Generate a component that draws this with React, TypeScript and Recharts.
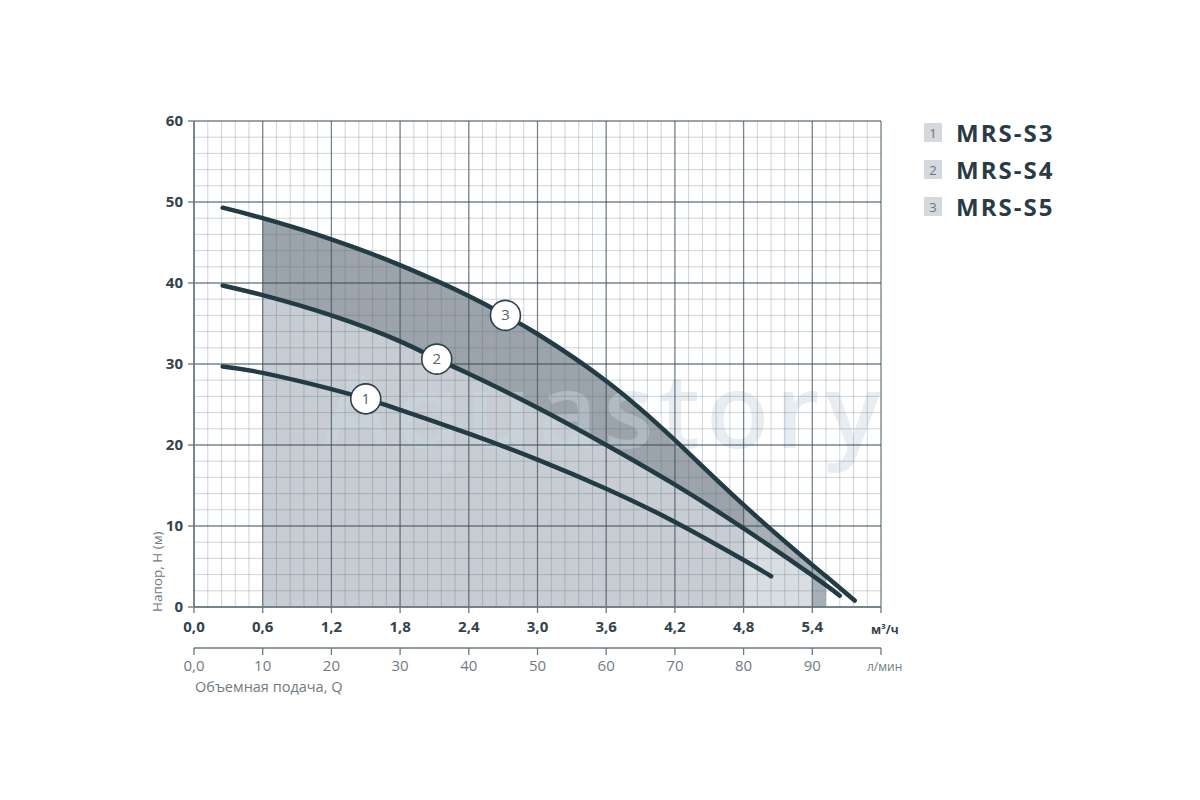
import React from 'react';
import { ComposedChart, Area, Line, XAxis, YAxis, CartesianGrid, Scatter } from 'recharts';

type P = { q: number; h: number };

// Q in m³/h, H in m
const mrsS3: P[] = [
  { q: 0.25, h: 29.7 }, { q: 0.6, h: 28.9 }, { q: 1.2, h: 26.9 }, { q: 1.5, h: 25.7 },
  { q: 1.8, h: 24.35 }, { q: 2.4, h: 21.4 }, { q: 3.0, h: 18.2 }, { q: 3.6, h: 14.6 },
  { q: 4.2, h: 10.5 }, { q: 4.8, h: 5.8 }, { q: 5.04, h: 3.8 },
];
const mrsS4: P[] = [
  { q: 0.25, h: 39.7 }, { q: 0.6, h: 38.5 }, { q: 1.2, h: 36.0 }, { q: 1.8, h: 32.8 },
  { q: 2.12, h: 30.6 }, { q: 2.4, h: 28.8 }, { q: 3.0, h: 24.6 }, { q: 3.6, h: 20.0 },
  { q: 4.2, h: 15.1 }, { q: 4.8, h: 9.7 }, { q: 5.4, h: 3.9 }, { q: 5.64, h: 1.4 },
];
const mrsS5: P[] = [
  { q: 0.25, h: 49.3 }, { q: 0.6, h: 48.0 }, { q: 1.2, h: 45.4 }, { q: 1.8, h: 42.2 },
  { q: 2.4, h: 38.4 }, { q: 2.72, h: 36.0 }, { q: 3.0, h: 33.7 }, { q: 3.6, h: 27.9 },
  { q: 4.2, h: 20.6 }, { q: 4.8, h: 12.6 }, { q: 5.4, h: 5.2 }, { q: 5.52, h: 3.8 },
  { q: 5.77, h: 0.8 },
];

const seriesNames = ['MRS-S3', 'MRS-S4', 'MRS-S5'];
const seriesNumbers = ['1', '2', '3'];
const labelQ = [1.5, 2.12, 2.72];

const qTicks = [0, 0.6, 1.2, 1.8, 2.4, 3.0, 3.6, 4.2, 4.8, 5.4, 6.0];
const qTickLabels = ['0,0', '0,6', '1,2', '1,8', '2,4', '3,0', '3,6', '4,2', '4,8', '5,4', ''];
// л/мин scale: 10 л/мин = 0,6 м³/ч, so its ticks sit on the same positions
const lTickLabels = ['0,0', '10', '20', '30', '40', '50', '60', '70', '80', '90', ''];
const hTicks = [0, 10, 20, 30, 40, 50, 60];
const hTickLabels = ['0', '10', '20', '30', '40', '50', '60'];

// working ranges (m³/h)
const rangeStart = 0.6;
const rangeEndS5 = 5.52;
const rangeEndS4 = 5.4;
const rangeEndShade = 4.8;

const minorQ = Array.from({ length: 51 }, (_, i) => +(i * 0.12).toFixed(2));
const minorH = Array.from({ length: 31 }, (_, i) => i * 2);

const within = (arr: P[], a: number, b: number) => arr.filter((p) => p.q >= a - 1e-9 && p.q <= b + 1e-9);
const fillDark = within(mrsS5, rangeStart, rangeEndS5);
const fillLight = within(mrsS4, rangeStart, rangeEndS4);
const fillShade = within(mrsS5, rangeStart, rangeEndShade);

const curves = [mrsS3, mrsS4, mrsS5];
const labelPts = curves.map((c, i) => {
  const p = c.find((d) => Math.abs(d.q - labelQ[i]) < 1e-9)!;
  return { q: p.q, h: p.h, n: seriesNumbers[i] };
});

const W = 1200;
const H = 800;
const MARGIN_A = { top: 121, right: 319, bottom: 193, left: 194 };
const MARGIN_B = { top: 121, right: 319, bottom: 112, left: 134 };

const FONT = "'Open Sans', 'DejaVu Sans', sans-serif";
const CURVE = '#233b45';
const AXIS = '#6a7882';
const CURVE_TYPE = 'natural' as const;

const fmtIdx = (labels: string[]) => (v: number) =>
  labels[qTicks.findIndex((t) => Math.abs(t - v) < 1e-9)] ?? '';

const LabelShape = (props: any) => {
  const { cx, cy, payload } = props;
  if (cx == null || cy == null) return null;
  return (
    <g>
      <circle cx={cx} cy={cy} r={15} fill="#ffffff" stroke="#2e404a" strokeWidth={1.6} />
      <text x={cx} y={cy + 5} textAnchor="middle" fontFamily={FONT} fontSize={15} fill="#56616a">
        {payload.n}
      </text>
    </g>
  );
};

const layer: React.CSSProperties = { position: 'absolute', left: 0, top: 0 };

export default function App() {
  return (
    <div style={{ position: 'absolute', left: 0, top: 0, width: W, height: H, background: '#ffffff', fontFamily: FONT }}>
      {/* fills */}
      <div style={layer}>
        <ComposedChart width={W} height={H} margin={MARGIN_A}>
          <XAxis type="number" dataKey="q" domain={[0, 6]} hide allowDataOverflow />
          <YAxis type="number" domain={[0, 60]} hide allowDataOverflow />
          <Area data={fillDark} dataKey="h" type={CURVE_TYPE} stroke="none" fill="#a9afb6" fillOpacity={1} isAnimationActive={false} />
          <Area data={fillLight} dataKey="h" type={CURVE_TYPE} stroke="none" fill="#d8dde2" fillOpacity={1} isAnimationActive={false} />
          <Area data={fillShade} dataKey="h" type={CURVE_TYPE} stroke="none" fill="#1c2a36" fillOpacity={0.09} isAnimationActive={false} />
        </ComposedChart>
      </div>
      {/* watermark */}
      <svg style={layer} width={W} height={H}>
        <text x={322} y={448} fontFamily={FONT} fontSize={103} fontWeight={600} letterSpacing={6} fill="#cdd8e3" fillOpacity={0.45}>
          Aquastory
        </text>
      </svg>
      {/* grid, axes, curves */}
      <div style={layer}>
        <ComposedChart width={W} height={H} margin={MARGIN_B}>
          <CartesianGrid xAxisId="a" verticalValues={minorQ} horizontalValues={minorH} stroke="#5b6f7e" strokeOpacity={0.3} strokeWidth={1} />
          <CartesianGrid xAxisId="a" verticalValues={qTicks} horizontalValues={hTicks} stroke="#3a4c59" strokeOpacity={0.6} strokeWidth={1.3} />
          <XAxis
            xAxisId="a"
            type="number"
            dataKey="q"
            domain={[0, 6]}
            ticks={qTicks}
            interval={0}
            height={41}
            allowDataOverflow
            tickFormatter={fmtIdx(qTickLabels)}
            axisLine={{ stroke: AXIS, strokeWidth: 1.5 }}
            tickLine={{ stroke: AXIS, strokeWidth: 1.3 }}
            tickSize={6}
            tickMargin={8}
            tick={{ fontFamily: FONT, fontSize: 15, fontWeight: 700, fill: '#33434d' }}
          />
          <XAxis
            xAxisId="b"
            type="number"
            dataKey="q"
            domain={[0, 6]}
            ticks={qTicks}
            interval={0}
            height={40}
            allowDataOverflow
            tickFormatter={fmtIdx(lTickLabels)}
            axisLine={{ stroke: AXIS, strokeWidth: 1.5 }}
            tickLine={{ stroke: AXIS, strokeWidth: 1.3 }}
            tickSize={7}
            tickMargin={5}
            tick={{ fontFamily: FONT, fontSize: 15, fontWeight: 400, fill: '#6f7b83' }}
          />
          <YAxis
            type="number"
            domain={[0, 60]}
            ticks={hTicks}
            interval={0}
            width={60}
            allowDataOverflow
            tickFormatter={(v: number) => hTickLabels[hTicks.indexOf(v)] ?? ''}
            axisLine={{ stroke: AXIS, strokeWidth: 1.5 }}
            tickLine={{ stroke: AXIS, strokeWidth: 1.3 }}
            tickSize={6}
            tickMargin={5}
            tick={{ fontFamily: FONT, fontSize: 15, fontWeight: 700, fill: '#33434d' }}
          />
          {curves.map((c, i) => (
            <Line
              key={seriesNames[i]}
              xAxisId="a"
              data={c}
              dataKey="h"
              type={CURVE_TYPE}
              stroke={CURVE}
              strokeWidth={4.5}
              strokeLinecap="round"
              dot={false}
              activeDot={false}
              isAnimationActive={false}
            />
          ))}
          <Scatter xAxisId="b" data={labelPts} dataKey="h" shape={LabelShape} isAnimationActive={false} />
        </ComposedChart>
      </div>
      {/* texts & legend */}
      <svg style={{ ...layer, pointerEvents: 'none' }} width={W} height={H}>
        <text x={871} y={634} fontFamily={FONT} fontSize={12} fontWeight={700} fill="#33434d">м³/ч</text>
        <text x={867} y={671} fontFamily={FONT} fontSize={12} fill="#6f7b83">л/мин</text>
        <text x={195} y={692} fontFamily={FONT} fontSize={14.5} fill="#6f7b83">Объемная подача, Q</text>
        <text x={162} y={612} transform="rotate(-90 162 612)" fontFamily={FONT} fontSize={13.5} fill="#6f7b83">
          Напор, Н (м)
        </text>
        {seriesNames.map((name, i) => {
          const base = 141.5 + i * 37;
          return (
            <g key={name}>
              <rect x={924} y={base - 18.5} width={18} height={19} fill="#d4d9de" />
              <text x={933} y={base - 4} textAnchor="middle" fontFamily={FONT} fontSize={13} fill="#6b757c">
                {seriesNumbers[i]}
              </text>
              <text x={956} y={base} fontFamily={FONT} fontSize={24} fontWeight={700} fill="#2a3b46" letterSpacing={2}>
                {name}
              </text>
            </g>
          );
        })}
      </svg>
    </div>
  );
}
